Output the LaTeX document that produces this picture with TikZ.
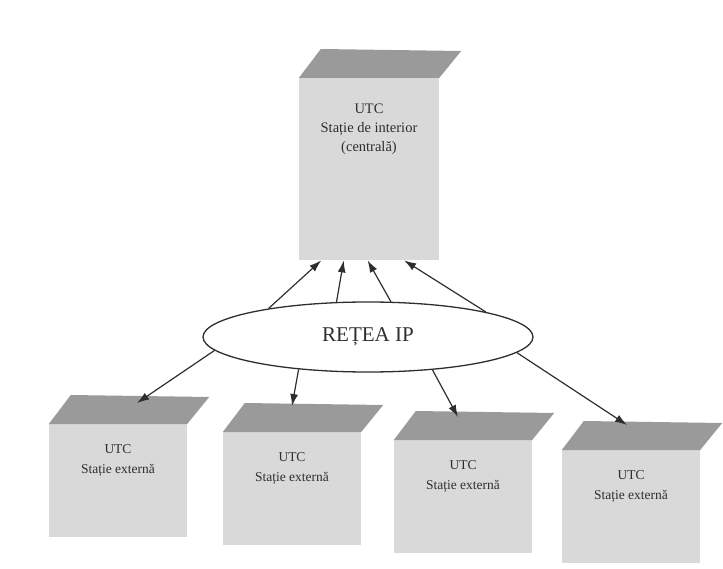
\documentclass[tikz,border=0pt]{standalone}
\usepackage{fontspec}
\setmainfont{Liberation Serif}
\usetikzlibrary{shapes.geometric,arrows.meta,calc}
\definecolor{facegray}{HTML}{D9D9D9}
\definecolor{topgray}{HTML}{9A9A9A}
\definecolor{inkgray}{HTML}{2E2E2E}
\tikzset{
  station/.style={
    fill=facegray,
    anchor=north,
    inner sep=0pt,
    minimum width=138pt,
    minimum height=113pt
  },
  central/.style={
    station,
    minimum width=140pt,
    minimum height=182pt
  },
  stlabel/.style={
    anchor=north,
    align=center,
    text=inkgray,
    font=\fontsize{13.5}{20}\selectfont
  },
  network/.style={
    shape=ellipse,
    draw=inkgray,
    line width=1.3pt,
    inner sep=0pt,
    minimum width=330pt,
    minimum height=70pt,
    text=inkgray,
    font=\fontsize{21}{24}\selectfont
  },
  link/.style={
    draw=inkgray,
    line width=1.2pt,
    -{Latex[length=12pt,width=8pt]}
  }
}
\begin{document}
\begin{tikzpicture}[x=1pt,y=-1pt]
  \useasboundingbox (0,0) rectangle (723,569);

  % stations (front faces)
  \node[central] (c) at (369,78) {};
  \node[station] (s1) at (118,424) {};
  \node[station] (s2) at (292,432) {};
  \node[station] (s3) at (463,440) {};
  \node[station] (s4) at (631,450) {};

  % top faces
  \foreach \b in {c,s1,s2,s3,s4}
    \fill[topgray] (\b.north west) -- ++(22,-29) -- ($(\b.north east)+(22,-27)$) -- (\b.north east) -- cycle;

  \node[stlabel,font=\fontsize{14.5}{19}\selectfont] (c-txt) at ($(c.north)+(0,22)$) {UTC\\Stație de interior\\(centrală)};
  \foreach \b in {s1,s2,s3,s4}
    \node[stlabel] (\b-txt) at ($(\b.north)+(0,17)$) {UTC\\Stație externă};

  \node[network] (net) at (368,337) {REȚEA IP};

  % landing points on the top faces
  \coordinate (s1-top) at ($(s1.north)+(19,-21)$);
  \coordinate (s2-top) at ($(s2.north)+(0,-26)$);
  \coordinate (s3-top) at ($(s3.north)+(-5,-23)$);
  \coordinate (s4-top) at ($(s4.north)+(-4,-25)$);

  % network -> central station
  \draw[link] (net.164) -- ($(c.south west)!0.16!(c.south east)$);
  \draw[link] (net.132) -- ($(c.south west)!0.32!(c.south east)$);
  \draw[link] (net.57) -- ($(c.south west)!0.49!(c.south east)$);
  \draw[link] (net.12) -- ($(c.south west)!0.75!(c.south east)$);

  % network -> external stations
  \draw[link] (net.185) -- (s1-top);
  \draw[link] (net.205) -- (s2-top);
  \draw[link] (net.333) -- (s3-top);
  \draw[link] (net.354) -- (s4-top);
\end{tikzpicture}
\end{document}
